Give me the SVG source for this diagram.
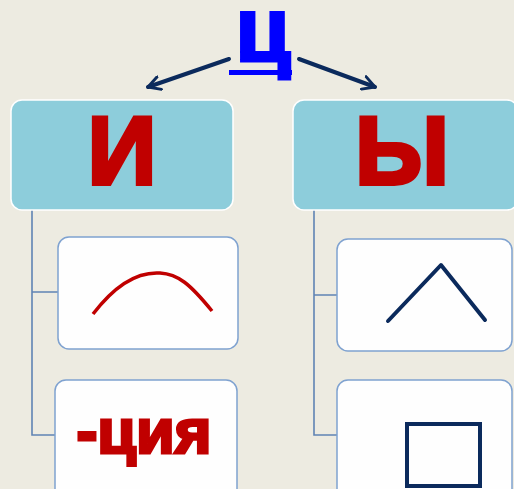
<svg xmlns="http://www.w3.org/2000/svg" width="514" height="489" viewBox="0 0 514 489">
<defs>
<style>
.top{fill:#8DCDDB;stroke:#FFFFFF;stroke-width:1.5}
.sub{fill:#FEFEFE;stroke:#7FA2D0;stroke-width:1.5}
.conn{fill:none;stroke:#5F84B4;stroke-width:1.6}
.arr{fill:none;stroke:#0B2A5C;stroke-width:4;stroke-linecap:round}
.big{font-family:"Liberation Sans",Arial,sans-serif;font-weight:bold;fill:#C00000;stroke:#C00000;stroke-linejoin:miter;text-anchor:middle}
</style>
<marker id="ah" viewBox="0 0 12 12" refX="10" refY="6" markerWidth="4" markerHeight="4" orient="auto" markerUnits="strokeWidth">
<path d="M1,1 L10,6 L1,11" fill="none" stroke="#0B2A5C" stroke-width="2.2" stroke-linecap="round" stroke-linejoin="round"/>
</marker>
</defs>
<rect width="514" height="489" fill="#EDEBE1"/>
<g id="root">
<text x="263" y="61" font-family="Liberation Sans,Arial,sans-serif" font-weight="bold" font-size="90" fill="#0000FF" stroke="#0000FF" stroke-width="3" text-anchor="middle">ц</text>
<rect x="229" y="70" width="63" height="5" fill="#0000FF"/>
</g>
<g id="connectors">
<line class="arr" x1="229" y1="59" x2="148" y2="87" marker-end="url(#ah)"/>
<line class="arr" x1="299" y1="59" x2="375" y2="87" marker-end="url(#ah)"/>
<path class="conn" d="M32,210 V435 H55 M32,292 H58"/>
<path class="conn" d="M314,210 V435 H337 M314,295 H337"/>
</g>
<g id="node-i">
<rect class="top" x="11" y="100" width="222" height="110" rx="11"/>
<text class="big" x="122" y="184" font-size="96" stroke-width="4">И</text>
</g>
<g id="node-y">
<rect class="top" x="293" y="100" width="225" height="110" rx="11"/>
<text class="big" x="402" y="184" font-size="96" stroke-width="4">Ы</text>
</g>
<g id="node-arc">
<rect class="sub" x="58" y="237" width="180" height="112" rx="11"/>
<path d="M93,314 C122,276 145,272 160,273 C178,274 190,284 212,311" fill="none" stroke="#C00000" stroke-width="3.5"/>
</g>
<g id="node-cia">
<rect class="sub" x="55" y="380" width="182" height="130" rx="11"/>
<text class="big" x="144" y="453" font-size="63" stroke-width="3">-ция</text>
</g>
<g id="node-angle">
<rect class="sub" x="337" y="239" width="175" height="112" rx="11"/>
<path d="M388,321 L441,265 L485,320" fill="none" stroke="#0B2A5C" stroke-width="4" stroke-linecap="round" stroke-linejoin="round"/>
</g>
<g id="node-square">
<rect class="sub" x="337" y="380" width="175" height="130" rx="11"/>
<rect x="407" y="424" width="73" height="62" fill="none" stroke="#0B2A5C" stroke-width="4"/>
</g>
</svg>
